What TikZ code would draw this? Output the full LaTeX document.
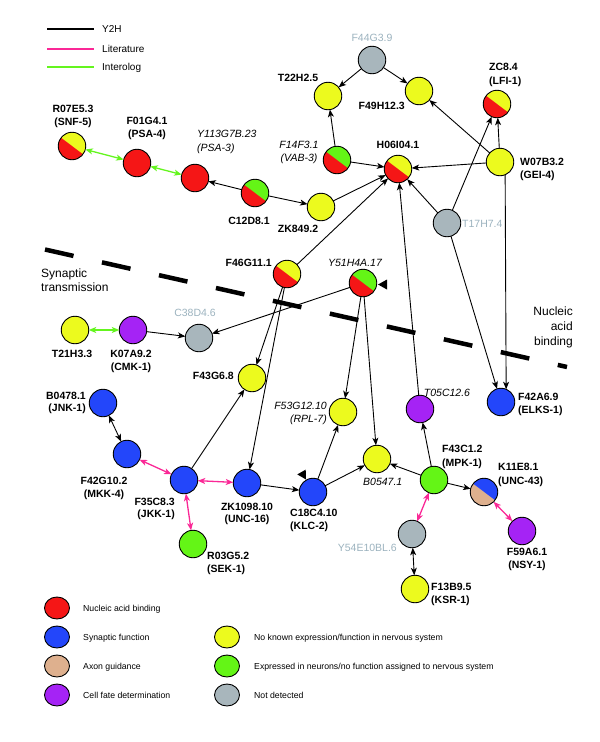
\documentclass[tikz,border=0pt]{standalone}
\usepackage{fontspec}
\setmainfont{Liberation Sans}
\usetikzlibrary{arrows.meta,shapes.geometric}
\definecolor{cred}{RGB}{245,22,22}
\definecolor{cyel}{RGB}{236,250,30}
\definecolor{cgrn}{RGB}{100,245,22}
\definecolor{cblu}{RGB}{35,70,250}
\definecolor{cpur}{RGB}{165,35,245}
\definecolor{cgry}{RGB}{168,182,188}
\definecolor{ctan}{RGB}{222,176,142}
\definecolor{cpink}{RGB}{250,40,150}
\definecolor{cgline}{RGB}{100,245,30}
\definecolor{cgtxt}{RGB}{155,178,190}
\begin{document}
\begin{tikzpicture}[x=1pt,y=-1pt,
  gnode/.style={circle, draw=black, line width=0.9pt, minimum size=27.5pt, inner sep=0pt, outer sep=0pt},
  mono/.style={gnode, fill=#1},
  duo/.style 2 args={gnode, fill=#1, path picture={\fill[#2] (path picture bounding box.center) ++(143:20pt) -- ++(323:40pt) -- ++(233:20pt) -- ++(143:40pt) -- cycle;}},
  lb/.style={font=\fontsize{10.5}{12}\selectfont\bfseries, inner sep=0pt, text height=7.5pt, text depth=0pt},
  li/.style={font=\fontsize{10.5}{12}\selectfont\itshape, inner sep=0pt, text height=7.5pt, text depth=0pt},
  lg/.style={font=\fontsize{10.5}{12}\selectfont, text=cgtxt, inner sep=0pt, text height=7.5pt, text depth=0pt},
  reg/.style={font=\fontsize{12}{14}\selectfont, inner sep=0pt, text height=8.6pt, text depth=0pt},
  legtop/.style={font=\fontsize{10}{12}\selectfont, inner sep=0pt, text height=7.2pt, text depth=0pt, anchor=west},
  legbot/.style={font=\fontsize{8.7}{10}\selectfont, inner sep=0pt, text height=6.3pt, text depth=0pt, anchor=west},
  legdot/.style={ellipse, draw=black, line width=0.9pt, minimum width=25pt, minimum height=22pt, inner sep=0pt, fill=#1},
  tip/.style={Stealth[length=7.5pt,width=6pt,inset=2pt]},
  edge/.style={line width=0.9pt, -{Stealth[length=7.5pt,width=6pt,inset=2pt]}},
  dbl/.style={line width=0.9pt, {Stealth[length=7.5pt,width=6pt,inset=2pt]}-{Stealth[length=7.5pt,width=6pt,inset=2pt]}},
  lit/.style={dbl, draw=cpink, line width=1.3pt},
  intl/.style={dbl, draw=cgline, line width=1.3pt}
]
\useasboundingbox (0,0) rectangle (600,742);

% top legend
\draw[line width=2.2pt] (47,29) -- (94,29);
\draw[line width=2.2pt, cpink] (47,49) -- (94,49);
\draw[line width=2.2pt, cgline] (47,67) -- (94,67);
\node[legtop] (ly2h) at (102,29) {Y2H};
\node[legtop] (llit) at (102,49) {Literature};
\node[legtop] (lint) at (102,67) {Interolog};

% dashed separator
\draw[line width=4.5pt, dash pattern=on 29.2pt off 29.2pt] (45,249.5) -- (567,367);
\node[reg, anchor=west] (rs1) at (41,273) {Synaptic};
\node[reg, anchor=west] (rs2) at (41,287) {transmission};
\node[reg, anchor=east] (rn1) at (573,311) {Nucleic};
\node[reg, anchor=east] (rn2) at (573,326) {acid};
\node[reg, anchor=east] (rn3) at (573,341) {binding};

% gene nodes
\node[duo={cyel}{cred}] (r07e53) at (72,146) {};
\node[mono=cred] (f01g41) at (137,163) {};
\node[mono=cred] (y113g7b) at (195,178) {};
\node[duo={cgrn}{cred}] (c12d81) at (255,193) {};
\node[mono=cyel] (zk8492) at (321,207) {};
\node[duo={cgrn}{cred}] (f14f31) at (337,160) {};
\node[duo={cyel}{cred}] (h06i041) at (398,169) {};
\node[mono=cyel] (t22h25) at (328,96) {};
\node[mono=cgry] (f44g39) at (372,60) {};
\node[mono=cyel] (f49h123) at (419,91) {};
\node[duo={cyel}{cred}] (zc84) at (497,104) {};
\node[mono=cyel] (w07b32) at (500,162) {};
\node[mono=cgry] (t17h74) at (447,223) {};
\node[duo={cyel}{cred}] (f46g111) at (287,274) {};
\node[duo={cgrn}{cred}] (y51h4a17) at (363,283) {};
\node[mono=cgry] (c38d46) at (199,338) {};
\node[mono=cpur] (k07a92) at (133,330) {};
\node[mono=cyel] (t21h33) at (75,330) {};
\node[mono=cyel] (f43g68) at (252,378) {};
\node[mono=cblu] (b04781) at (103,403) {};
\node[mono=cblu] (f42g102) at (127,454) {};
\node[mono=cblu] (f35c83) at (184,480) {};
\node[mono=cblu] (zk109810) at (247,483) {};
\node[mono=cblu] (c18c410) at (313,492) {};
\node[mono=cgrn] (r03g52) at (193,544) {};
\node[mono=cyel] (f53g1210) at (343,412) {};
\node[mono=cyel] (b05471) at (377,459) {};
\node[mono=cpur] (t05c126) at (420,409) {};
\node[mono=cblu] (f42a69) at (501,402) {};
\node[mono=cgrn] (f43c12) at (434,480) {};
\node[duo={cblu}{ctan}] (k11e81) at (484,492) {};
\node[mono=cpur] (f59a61) at (522,531) {};
\node[mono=cgry] (y54e10bl6) at (412,534) {};
\node[mono=cyel] (f13b95) at (415,589) {};

% self-interaction markers
\fill (378,284.5) -- (387,279.5) -- (387,289.5) -- cycle;
\fill (306,479.5) -- (297.3,474.4) -- (305.7,469.6) -- cycle;

% connectors
\draw[intl] (r07e53) -- (f01g41);
\draw[intl] (f01g41) -- (y113g7b);
\draw[edge] (c12d81) -- (y113g7b);
\draw[edge] (c12d81) -- (zk8492);
\draw[edge] (zk8492) -- (h06i041);
\draw[edge] (f14f31) -- (h06i041);
\draw[edge] (f14f31) -- (t22h25);
\draw[edge] (f44g39) -- (t22h25);
\draw[edge] (f44g39) -- (f49h123);
\draw[edge] (w07b32) -- (f49h123);
\draw[edge] (w07b32) -- (zc84);
\draw[edge] (w07b32) -- (h06i041);
\draw[edge] (t17h74) -- (zc84);
\draw[edge] (t17h74) -- (h06i041);
\draw[edge] (t17h74) -- (f42a69);
\draw[edge] (w07b32.-68) -- (f42a69.68);
\draw[edge] (f46g111) -- (h06i041);
\draw[edge] (t05c126) -- (h06i041);
\draw[edge] (f46g111) -- (f43g68);
\draw[edge] (f46g111) -- (zk109810);
\draw[edge] (y51h4a17) -- (c38d46);
\draw[edge] (y51h4a17) -- (f53g1210);
\draw[edge] (y51h4a17) -- (b05471);
\draw[edge] (k07a92) -- (c38d46);
\draw[intl] (t21h33) -- (k07a92);
\draw[dbl] (b04781) -- (f42g102);
\draw[lit] (f42g102) -- (f35c83);
\draw[edge] (f35c83) -- (f43g68);
\draw[lit] (f35c83) -- (zk109810);
\draw[lit] (f35c83) -- (r03g52);
\draw[edge] (zk109810) -- (c18c410);
\draw[edge] (c18c410) -- (f53g1210);
\draw[edge] (c18c410) -- (b05471);
\draw[edge] (f43c12) -- (b05471);
\draw[edge] (f43c12) -- (t05c126);
\draw[edge] (f43c12) -- (k11e81);
\draw[lit] (f43c12) -- (y54e10bl6);
\draw[lit] (k11e81) -- (f59a61);
\draw[dbl] (y54e10bl6) -- (f13b95);

% labels
\node[lb] (tr07a) at (73,109) {R07E5.3};
\node[lb] (tr07b) at (73,122) {(SNF-5)};
\node[lb] (tf01a) at (147,121) {F01G4.1};
\node[lb] (tf01b) at (147,134) {(PSA-4)};
\node[li, anchor=west] (ty113a) at (197,134) {Y113G7B.23};
\node[li, anchor=west] (ty113b) at (197,148) {(PSA-3)};
\node[lb] (tc12) at (249,221) {C12D8.1};
\node[lb] (tzk849) at (298,229) {ZK849.2};
\node[li] (tf14a) at (299,145) {F14F3.1};
\node[li] (tf14b) at (299,158) {(VAB-3)};
\node[lb] (th06) at (398,145) {H06I04.1};
\node[lb] (tt22) at (298,78) {T22H2.5};
\node[lg] (tf44) at (372,38) {F44G3.9};
\node[lb, anchor=east] (tf49) at (405,106) {F49H12.3};
\node[lb, anchor=west] (tzc8a) at (489,67) {ZC8.4};
\node[lb, anchor=west] (tzc8b) at (489,81) {(LFI-1)};
\node[lb, anchor=west] (tw07a) at (520,162) {W07B3.2};
\node[lb, anchor=west] (tw07b) at (520,175) {(GEI-4)};
\node[lg, anchor=west] (tt17) at (462,224) {T17H7.4};
\node[lb, anchor=east] (tf46) at (272,263) {F46G11.1};
\node[li] (ty51) at (355,263) {Y51H4A.17};
\node[lg] (tc38) at (195,313) {C38D4.6};
\node[lb] (tt21) at (72,354) {T21H3.3};
\node[lb] (tk07a) at (131,354) {K07A9.2};
\node[lb] (tk07b) at (131,367) {(CMK-1)};
\node[lb, anchor=east] (tf43g) at (234,376) {F43G6.8};
\node[lb, anchor=east] (tb04a) at (86,396) {B0478.1};
\node[lb, anchor=east] (tb04b) at (86,408) {(JNK-1)};
\node[lb] (tf42ga) at (104,481) {F42G10.2};
\node[lb] (tf42gb) at (104,494) {(MKK-4)};
\node[lb, anchor=east] (tf35a) at (175,502) {F35C8.3};
\node[lb, anchor=east] (tf35b) at (175,514) {(JKK-1)};
\node[lb] (tzk10a) at (247,507) {ZK1098.10};
\node[lb] (tzk10b) at (247,519) {(UNC-16)};
\node[lb, anchor=west] (tc18a) at (290,513) {C18C4.10};
\node[lb, anchor=west] (tc18b) at (290,526) {(KLC-2)};
\node[lb, anchor=west] (tr03a) at (207,556) {R03G5.2};
\node[lb, anchor=west] (tr03b) at (207,569) {(SEK-1)};
\node[li, anchor=east] (tf53a) at (327,406) {F53G12.10};
\node[li, anchor=east] (tf53b) at (327,419) {(RPL-7)};
\node[li, anchor=west] (tb05) at (363,482) {B0547.1};
\node[li] (tt05) at (447,393) {T05C12.6};
\node[lb, anchor=west] (tf42aa) at (518,397) {F42A6.9};
\node[lb, anchor=west] (tf42ab) at (518,410) {(ELKS-1)};
\node[lb, anchor=west] (tf43ca) at (442,449) {F43C1.2};
\node[lb, anchor=west] (tf43cb) at (442,463) {(MPK-1)};
\node[lb, anchor=west] (tk11a) at (498,467) {K11E8.1};
\node[lb, anchor=west] (tk11b) at (498,481) {(UNC-43)};
\node[lg, anchor=east] (ty54) at (397,548) {Y54E10BL.6};
\node[lb] (tf59a) at (527,552) {F59A6.1};
\node[lb] (tf59b) at (527,565) {(NSY-1)};
\node[lb, anchor=west] (tf13a) at (431,587) {F13B9.5};
\node[lb, anchor=west] (tf13b) at (431,600) {(KSR-1)};

% bottom legend
\node[legdot=cred] (d1) at (57,608) {};
\node[legdot=cblu] (d2) at (57,637) {};
\node[legdot=ctan] (d3) at (57,666) {};
\node[legdot=cpur] (d4) at (57,695) {};
\node[legdot=cyel] (d5) at (227,637) {};
\node[legdot=cgrn] (d6) at (227,666) {};
\node[legdot=cgry] (d7) at (227,695) {};
\node[legbot] (e1) at (83,608) {Nucleic acid binding};
\node[legbot] (e2) at (83,637) {Synaptic function};
\node[legbot] (e3) at (83,666) {Axon guidance};
\node[legbot] (e4) at (83,695) {Cell fate determination};
\node[legbot] (e5) at (254,637) {No known expression/function in nervous system};
\node[legbot] (e6) at (254,666) {Expressed in neurons/no function assigned to nervous system};
\node[legbot] (e7) at (254,695) {Not detected};
\end{tikzpicture}
\end{document}
